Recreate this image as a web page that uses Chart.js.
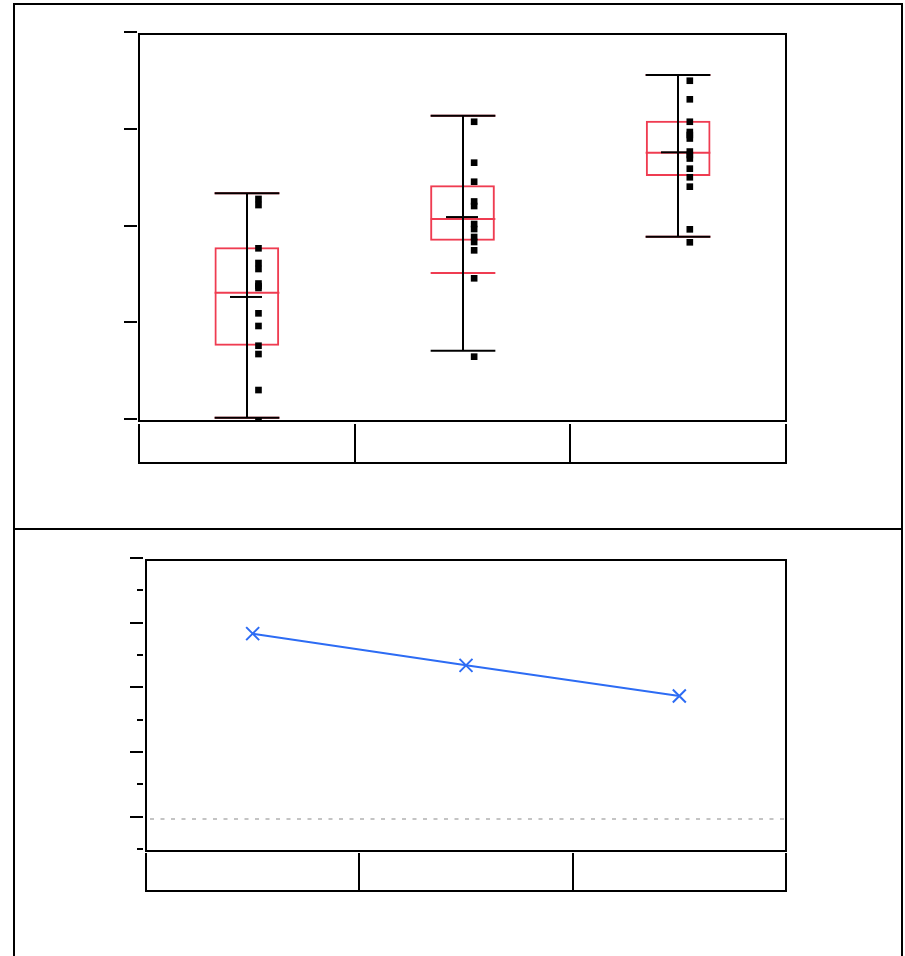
<!DOCTYPE html>
<html>
<head>
<meta charset="utf-8">
<script src="https://cdn.jsdelivr.net/npm/chart.js@4.4.1/dist/chart.umd.min.js"></script>
<style>
  html, body { margin: 0; padding: 0; background: #fff; width: 905px; height: 956px; overflow: hidden; }
  #frame { position: absolute; left: 13px; top: 3px; width: 886px; height: 1000px; border: 2px solid #000; }
  #divider { position: absolute; left: 13px; top: 528px; width: 890px; height: 2px; background: #000; }
  #top { position: absolute; left: 0; top: 0; }
  #bottom { position: absolute; left: 0; top: 529px; }
</style>
</head>
<body>
<div id="frame"></div>
<div id="divider"></div>
<canvas id="top" width="905" height="529"></canvas>
<canvas id="bottom" width="905" height="427"></canvas>
<script>
// ---- groups ----
const groupNames = ['G1', 'G2', 'G3'];

// ---- individual observations per group ----
const pointsG1 = [2.295, 2.232, 1.785, 1.633, 1.571, 1.421, 1.395, 1.375, 1.113, 0.982, 0.778, 0.692, 0.320, 0.000];
const pointsG2 = [3.093, 2.670, 2.473, 2.269, 2.222, 2.036, 1.984, 1.902, 1.850, 1.764, 1.475, 0.665];
const pointsG3 = [3.517, 3.325, 3.093, 2.987, 2.956, 2.920, 2.785, 2.749, 2.713, 2.608, 2.519, 2.422, 1.981, 1.847];

// ---- box plot summaries ----
const quartile1 = [0.778, 1.864, 2.532];
const quartile3 = [1.795, 2.436, 3.104];
const medians = [1.326, 2.088, 2.773];
const whiskerLow = [0.034, 1.530, 1.905];
const whiskerHigh = [2.353, 3.154, 3.576];

// ---- range bars and cell means ----
const rangeMin = [0.034, 0.727, 1.905];
const rangeMax = [2.353, 3.154, 3.576];
const means = [1.282, 2.108, 2.777];

// ---- lower panel: spread per group ----
const spread = [2.861, 2.371, 1.896];
const referenceLevel = 0;

// ---- axis ticks ----
const topTicks = [0, 1, 2, 3, 4];
const bottomMajorTicks = [0, 1, 2, 3, 4];
const bottomMinorTicks = [-0.5, 0.5, 1.5, 2.5, 3.5];

const RED = '#ef3c51';
const BLUE = '#2d6cf4';
const INK = '#000';
const POINT_SHIFT = 0.054;   // observations sit just right of the range bar
const TICK_LIFT = 2;         // tick marks are drawn slightly above their value

function drawFrame(ctx, a) {
  ctx.save();
  ctx.strokeStyle = INK;
  ctx.lineWidth = 2;
  ctx.strokeRect(a.left, a.top, a.right - a.left, a.bottom - a.top);
  ctx.restore();
}

function drawLabelBox(ctx, a, n, gapTop, height) {
  const y0 = a.bottom + gapTop, y1 = y0 + height;
  const w = (a.right - a.left) / n;
  ctx.save();
  ctx.strokeStyle = INK;
  ctx.lineWidth = 2;
  ctx.beginPath();
  for (let i = 0; i <= n; i++) {
    const x = Math.round(a.left + i * w);
    ctx.moveTo(x, y0);
    ctx.lineTo(x, y1);
  }
  ctx.moveTo(a.left - 1, y1);
  ctx.lineTo(a.right + 1, y1);
  ctx.stroke();
  ctx.restore();
}

function drawTicks(ctx, scale, values, x0, x1) {
  ctx.save();
  ctx.strokeStyle = INK;
  ctx.lineWidth = 2;
  ctx.beginPath();
  values.forEach(v => {
    const y = Math.round(scale.getPixelForValue(v)) - TICK_LIFT;
    ctx.moveTo(x0, y);
    ctx.lineTo(x1, y);
  });
  ctx.stroke();
  ctx.restore();
}

function hLine(ctx, x0, x1, y, color) {
  ctx.strokeStyle = color;
  ctx.beginPath();
  ctx.moveTo(x0, y);
  ctx.lineTo(x1, y);
  ctx.stroke();
}

// Box whiskers, medians, range bars and means, layered above the boxes
const topDecor = {
  id: 'topDecor',
  afterDatasetDraw(chart, args) {
    if (args.index !== 0) return;
    const ctx = chart.ctx;
    const xs = chart.scales.x, ys = chart.scales.y;
    const boxMeta = chart.getDatasetMeta(0);
    ctx.save();
    ctx.lineWidth = 2;
    groupNames.forEach((_, i) => {
      const cx = Math.round(xs.getPixelForValue(i));
      const bar = boxMeta.data[i];
      const half = bar.width / 2;
      // red whiskers
      const wl = ys.getPixelForValue(whiskerLow[i]);
      const wh = ys.getPixelForValue(whiskerHigh[i]);
      ctx.strokeStyle = RED;
      ctx.beginPath();
      ctx.moveTo(cx, wl); ctx.lineTo(cx, wh);
      ctx.stroke();
      hLine(ctx, cx - half, cx + half, wl, RED);
      hLine(ctx, cx - half, cx + half, wh, RED);
      hLine(ctx, cx - half, cx + half, ys.getPixelForValue(medians[i]), RED);
      // black range bar with caps
      const rl = ys.getPixelForValue(rangeMin[i]);
      const rh = ys.getPixelForValue(rangeMax[i]);
      ctx.strokeStyle = INK;
      ctx.beginPath();
      ctx.moveTo(cx, rl); ctx.lineTo(cx, rh);
      ctx.stroke();
      hLine(ctx, cx - half, cx + half, rl, INK);
      hLine(ctx, cx - half, cx + half, rh, INK);
      // cell mean
      hLine(ctx, cx - 17, cx + 15, ys.getPixelForValue(means[i]), INK);
    });
    ctx.restore();
  },
  afterDraw(chart) {
    const ctx = chart.ctx, a = chart.chartArea;
    drawFrame(ctx, a);
    drawTicks(ctx, chart.scales.y, topTicks, a.left - 15, a.left - 2);
    drawLabelBox(ctx, a, groupNames.length, 3, 39);
  }
};

const bottomDecor = {
  id: 'bottomDecor',
  beforeDatasetsDraw(chart) {
    const ctx = chart.ctx, a = chart.chartArea;
    const y = Math.round(chart.scales.y.getPixelForValue(referenceLevel));
    ctx.save();
    ctx.strokeStyle = '#c4c4c4';
    ctx.lineWidth = 2;
    ctx.setLineDash([4, 6.5]);
    ctx.beginPath();
    ctx.moveTo(a.left + 4, y);
    ctx.lineTo(a.right, y);
    ctx.stroke();
    ctx.restore();
  },
  afterDraw(chart) {
    const ctx = chart.ctx, a = chart.chartArea;
    drawFrame(ctx, a);
    drawTicks(ctx, chart.scales.y, bottomMajorTicks, a.left - 16, a.left - 3);
    drawTicks(ctx, chart.scales.y, bottomMinorTicks, a.left - 9, a.left - 3);
    drawLabelBox(ctx, a, groupNames.length, 2, 38);
  }
};

const pointSets = [pointsG1, pointsG2, pointsG3];

new Chart(document.getElementById('top'), {
  data: {
    labels: groupNames,
    datasets: [
      {
        type: 'bar',
        data: groupNames.map((_, i) => [quartile1[i], quartile3[i]]),
        backgroundColor: 'rgba(0,0,0,0)',
        borderColor: RED,
        borderWidth: 2,
        borderSkipped: false,
        grouped: false,
        barPercentage: 0.3,
        categoryPercentage: 1,
        order: 2
      },
      {
        type: 'scatter',
        xAxisID: 'xp',
        data: pointSets.flatMap((vals, i) => vals.map(v => ({ x: i + POINT_SHIFT, y: v }))),
        pointStyle: 'rect',
        pointRadius: 4.7,
        backgroundColor: INK,
        borderWidth: 0,
        order: 1
      }
    ]
  },
  options: {
    responsive: false,
    animation: false,
    devicePixelRatio: 1,
    events: [],
    layout: { padding: { left: 139, right: 119, top: 34, bottom: 108 } },
    plugins: { legend: { display: false }, tooltip: { enabled: false } },
    scales: {
      x: { type: 'category', display: false, offset: true },
      xp: { type: 'linear', display: false, min: -0.5, max: 2.5 },
      y: { type: 'linear', display: false, min: 0, max: 4 }
    }
  },
  plugins: [topDecor]
});

new Chart(document.getElementById('bottom'), {
  type: 'line',
  data: {
    labels: groupNames,
    datasets: [{
      data: spread,
      borderColor: BLUE,
      borderWidth: 2,
      tension: 0,
      fill: false,
      pointStyle: 'crossRot',
      pointRadius: 9.2,
      pointBorderWidth: 2,
      pointBorderColor: BLUE,
      pointBackgroundColor: BLUE
    }]
  },
  options: {
    responsive: false,
    animation: false,
    devicePixelRatio: 1,
    events: [],
    layout: { padding: { left: 146, right: 119, top: 31, bottom: 105 } },
    plugins: { legend: { display: false }, tooltip: { enabled: false } },
    scales: {
      x: { type: 'category', display: false, offset: true },
      y: { type: 'linear', display: false, min: -0.5, max: 4 }
    }
  },
  plugins: [bottomDecor]
});
</script>
</body>
</html>
